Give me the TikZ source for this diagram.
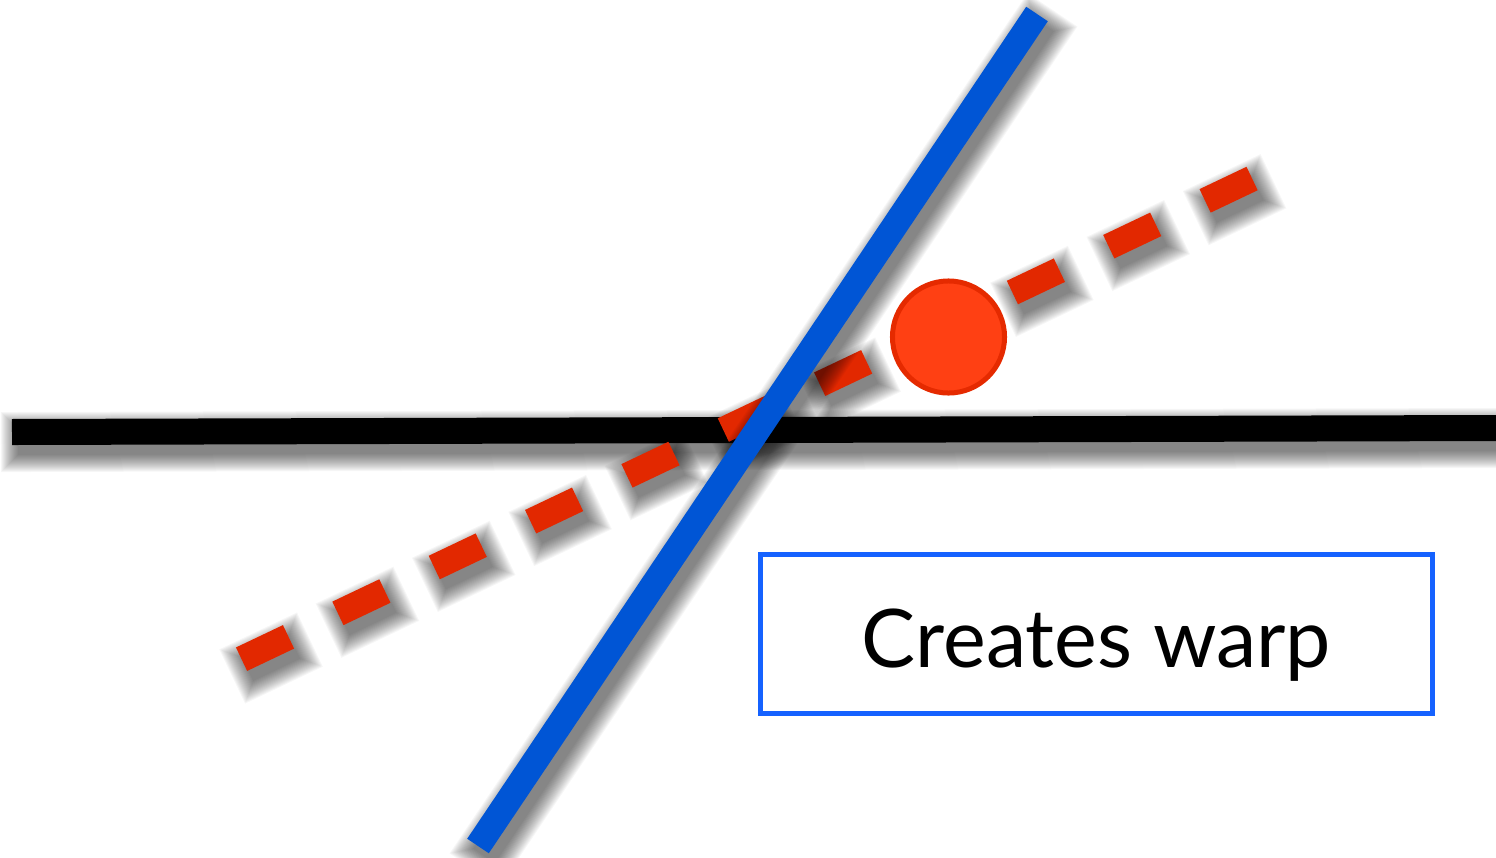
\documentclass[tikz,border=0pt]{standalone}
\usepackage{fontspec}
\newfontfamily\labelfont{Lato}
\usetikzlibrary{positioning}
\definecolor{warpblue}{RGB}{0,85,213}
\definecolor{warpred}{RGB}{226,40,0}
\definecolor{dotred}{RGB}{255,64,19}
\definecolor{dotedge}{RGB}{229,42,0}
\definecolor{boxblue}{RGB}{21,98,255}

\begin{document}
\begin{tikzpicture}[x=0.01cm, y=-0.01cm,
    bar/.style={line width=0.26cm},
    haze/.style={black, opacity=0.035, line cap=rect,
        transform canvas={shift={(0.06cm,-0.1cm)}}},
    redash/.style={dash pattern=on 0.26cm off 0.8064cm, line cap=rect},
    dot/.style={circle, fill=dotred, draw=dotedge, line width=0.05cm,
        minimum size=1.12cm, inner sep=0pt},
    labelbox/.style={rectangle, draw=boxblue, line width=0.05cm,
        minimum width=6.71cm, minimum height=1.58cm,
        font=\labelfont\fontsize{23}{27}\selectfont,
        text height=18.8pt, text depth=0pt}
]
    \useasboundingbox (0,0) rectangle (1496,857);

    % End points of the three lines
    \coordinate (hl) at (12,432);
    \coordinate (hr) at (1496,428);
    \coordinate (ds) at (253.3,653.6);
    \coordinate (de) at (1251.5,178.8);
    \coordinate (vb) at (478,846);
    \coordinate (vt) at (1037,14);

    % Horizontal black line
    \foreach \w in {0,2,...,34}
        \draw[haze, line width={(26+\w)*0.1mm}, shorten <=0.13cm, shorten >=0.13cm] (hl) -- (hr);
    \draw[bar, black] (hl) -- (hr);

    % Red dashed line
    \foreach \w in {0,2,...,34}
        \draw[haze, redash, line width={(26+\w)*0.1mm}] (ds) -- (de);
    \draw[bar, redash, warpred] (ds) -- (de);

    % Blue line
    \foreach \w in {0,2,...,34}
        \draw[haze, line width={(26+\w)*0.1mm}, shorten <=0.13cm, shorten >=0.13cm] (vb) -- (vt);
    \draw[bar, warpblue] (vb) -- (vt);

    % Ball and label
    \node[dot] (ball) at (948.5,337) {};
    \node[labelbox] (warp) at (1096.5,634) {Creates warp};
\end{tikzpicture}
\end{document}
